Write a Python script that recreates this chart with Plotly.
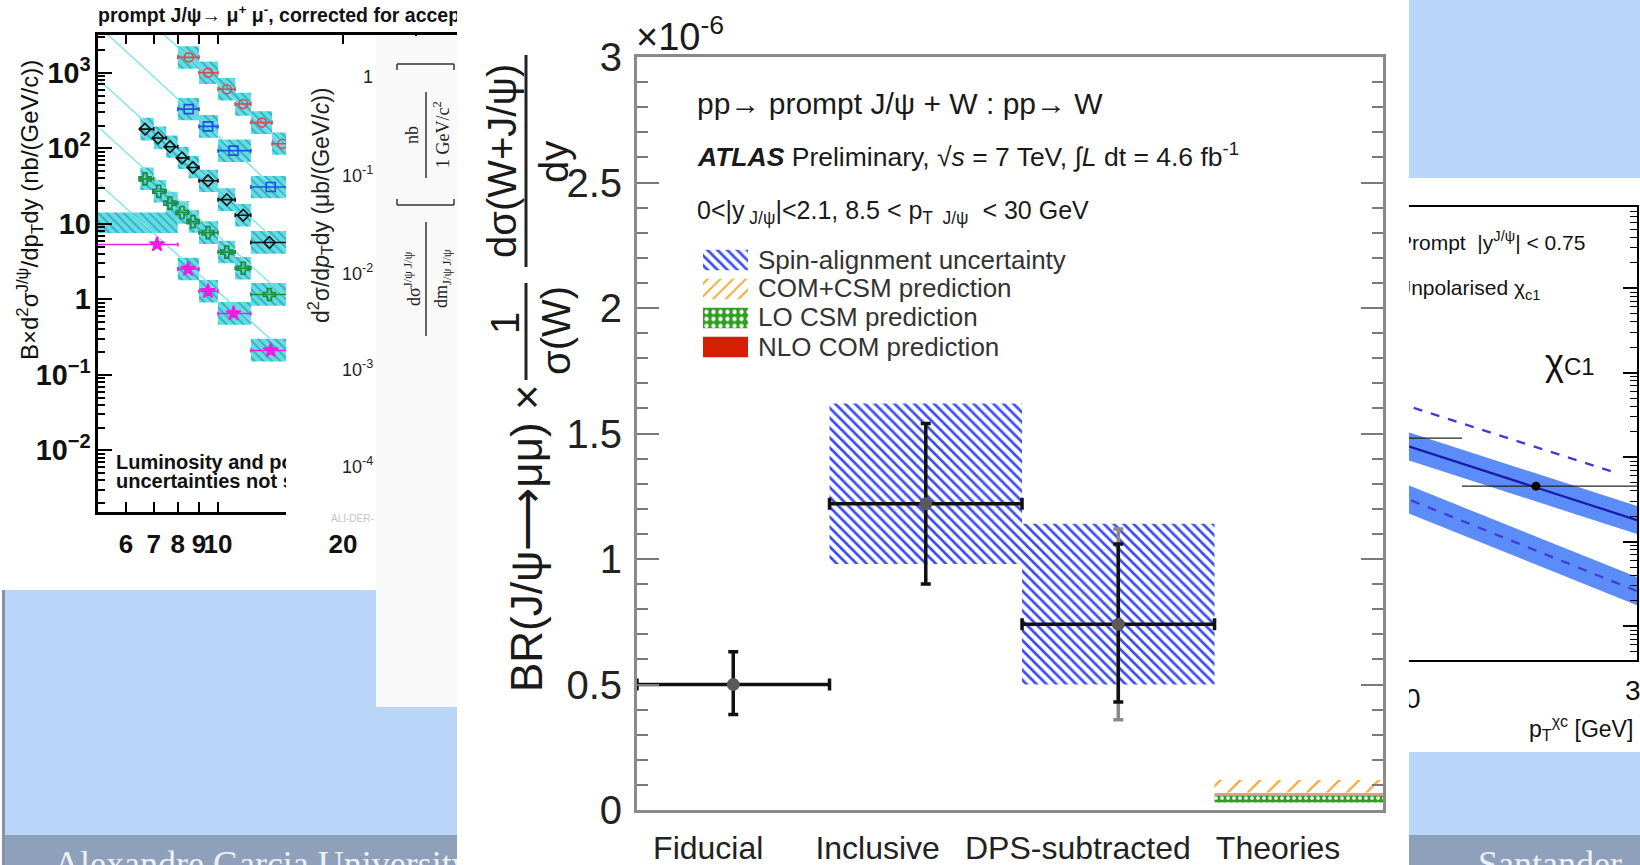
import plotly.graph_objects as go

W, H = 1640, 865


def fx(px):
    return px / W


def fy(py):
    return 1 - py / H


SANS = "Liberation Sans, Arial, Helvetica, sans-serif"
SERIF = "Liberation Serif, DejaVu Serif, serif"

# ---------------- ATLAS: prompt J/psi + W ratio (units of 1e-6) ----------------
categories = ["Fiducial", "Inclusive", "DPS-subtracted", "Theories"]
bin_centres = [0.5, 1.5, 2.5]
bin_half_width = [0.5, 0.5, 0.5]
ratio = [0.50, 1.22, 0.74]
ratio_err_up = [0.13, 0.32, 0.32]
ratio_err_down = [0.12, 0.32, 0.31]
dps_total_up = [0.38]
dps_total_down = [0.38]
spin_centres = [1.5, 2.5]
spin_low = [0.98, 0.50]
spin_high = [1.62, 1.14]
theory_centre = 3.5
theory_labels = ["COM+CSM prediction", "LO CSM prediction", "NLO COM prediction"]
theory_low = [0.070, 0.030, 0.058]
theory_high = [0.120, 0.058, 0.068]
y_ticks = [0, 0.5, 1, 1.5, 2, 2.5, 3]
y_tick_text = ["0", "0.5", "1", "1.5", "2", "2.5", "3"]
legend_labels = ["Spin-alignment uncertainty", "COM+CSM prediction",
                 "LO CSM prediction", "NLO COM prediction"]

# ---------------- CMS prompt J/psi cross sections (nb/(GeV/c)) ----------------
red_pt = [8.5, 9.46, 10.5, 11.5, 12.76, 14.3]
red_val = [1600, 1000, 604, 386, 219, 115]
red_bins = [(8, 9), (9, 10), (10, 11), (11, 12), (12, 13.5), (13.5, 15)]
red_box = [(1130, 2250), (710, 1410), (430, 850), (270, 545), (155, 310), (82, 162)]

blue_pt = [8.5, 9.46, 10.9, 13.4]
blue_val = [330, 195, 93, 30.7]
blue_bins = [(8, 9), (9, 10), (10, 12), (12, 15)]
blue_box = [(235, 465), (138, 275), (66, 131), (21.8, 43)]

black_pt = [6.67, 7.17, 7.66, 8.19, 8.7, 9.46, 10.5, 11.5, 13.3]
black_val = [179.5, 137, 105, 74.6, 55.8, 37.1, 20.9, 13.0, 5.65]
black_bins = [(6.5, 7), (7, 7.5), (7.5, 8), (8, 8.5), (8.5, 9), (9, 10), (10, 11), (11, 12), (12, 15)]
black_box = [(127, 253), (97, 194), (75, 148), (53, 105), (40, 79), (26.3, 52), (14.8, 29.5), (9.2, 18.3), (4.0, 8.0)]

green_pt = [6.67, 7.2, 7.66, 8.19, 8.7, 9.46, 10.5, 11.5, 13.3]
green_val = [39.4, 27, 18.8, 14.1, 10.7, 7.64, 4.22, 2.58, 1.16]
green_bins = black_bins
green_box = [(28, 55.6), (19.2, 38), (13.3, 26.5), (10, 19.9), (7.6, 15.1), (5.4, 10.8), (3.0, 5.95), (1.83, 3.64), (0.82, 1.64)]

mag_pt = [7.13, 8.47, 9.46, 10.9, 13.4]
mag_val = [5.33, 2.52, 1.28, 0.65, 0.21]
mag_bins = [(5, 8), (8, 9), (9, 10), (10, 12), (12, 15)]
mag_box = [(7.55, 14.1), (1.79, 3.55), (0.91, 1.8), (0.46, 0.92), (0.15, 0.30)]

fit_pt = [5.2, 20]
fit_red = [19200, 21.3]
fit_blue = [3970, 4.4]
fit_black = [776, 0.93]
fit_green = [182, 0.219]
fit_mag = [33, 0.040]

# ---------------- chi_c1 panel ----------------
chi_pt = [16, 29.85]
chi_nlo = [0.0318, 0.0018]
chi_nlo_lo = [0.0217, 0.00123]
chi_nlo_hi = [0.0466, 0.00264]
chi_low = [0.00923, 0.00026]
chi_low_lo = [0.0063, 0.000177]
chi_low_hi = [0.01353, 0.000381]
chi_up_pt = [16, 29.1]
chi_up = [0.094, 0.00634]
chi_data_pt = [19.5, 25.56]
chi_data = [0.0168, 0.00454]
chi_data_bins = [(17.5, 22.42), (22.42, 30)]

fig = go.Figure()

# ---- 1) page canvas: slide text that neighbouring panels partly hide ----
canvas_text = [
    ("prompt J/ψ→ μ<sup>+</sup> μ<sup>-</sup>, corrected for acceptance", 98, 17, 19.5, SANS, "#111", "bold", "middle right"),
    ("Luminosity and polarization", 116, 464, 20, SANS, "#111", "bold", "middle right"),
    ("uncertainties not shown", 116, 483, 20, SANS, "#111", "bold", "middle right"),
    ("Prompt  |y<sup>J/ψ</sup>| < 0.75", 1398, 245, 21, SANS, "#111", "normal", "middle right"),
    ("Unpolarised χ<sub>c1</sub>", 1396, 290, 21, SANS, "#111", "normal", "middle right"),
    ("Alexandre Garcia University", 54, 849, 36, SERIF, "#eef2f8", "normal", "bottom right"),
    ("Santander", 1478, 849, 36, SERIF, "#eef2f8", "normal", "bottom right"),
]
for txt, x, y, size, fam, col, wt, pos in canvas_text:
    fig.add_trace(go.Scatter(
        x=[x], y=[y], mode="text", text=[txt], textposition=pos,
        textfont=dict(size=size, family=fam, color=col, weight=wt),
        cliponaxis=False, xaxis="x", yaxis="y", hoverinfo="skip"))


# ---- 2) CMS panel ----
def box_path(bins, lohi):
    xs, ys = [], []
    for (a, b), (lo, hi) in zip(bins, lohi):
        xs += [a, b, b, a, a, None]
        ys += [lo, lo, hi, hi, lo, None]
    return xs, ys


cms_sets = [
    (red_pt, red_val, red_bins, red_box, fit_red, "#e0474c", "circle-open", 9),
    (blue_pt, blue_val, blue_bins, blue_box, fit_blue, "#2050e0", "square-open", 9),
    (black_pt, black_val, black_bins, black_box, fit_black, "#111111", "diamond-open", 9),
    (green_pt, green_val, green_bins, green_box, fit_green, "#1f8a3a", "cross-open", 10),
    (mag_pt, mag_val, mag_bins, mag_box, fit_mag, "#f01ee0", "star", 11),
]
for pt, val, bins, box, fit, col, sym, msize in cms_sets:
    bx, by = box_path(bins, box)
    fig.add_trace(go.Scatter(
        x=bx, y=by, mode="lines", fill="toself", fillcolor="#66dbe4",
        fillpattern=dict(shape="\\", fgcolor="#2ab0be", bgcolor="#66dbe4",
                         size=6, solidity=0.3, fillmode="replace"),
        line=dict(width=0), xaxis="x2", yaxis="y2", hoverinfo="skip"))
for pt, val, bins, box, fit, col, sym, msize in cms_sets:
    fig.add_trace(go.Scatter(
        x=fit_pt, y=fit, mode="lines", line=dict(color="#7de6ec", width=1.4),
        xaxis="x2", yaxis="y2", hoverinfo="skip"))
for pt, val, bins, box, fit, col, sym, msize in cms_sets:
    fig.add_trace(go.Scatter(
        x=pt, y=val, mode="markers",
        marker=dict(symbol=sym, size=msize, color=col, line=dict(color=col, width=1.6)),
        error_x=dict(type="data",
                     array=[b[1] - p for b, p in zip(bins, pt)],
                     arrayminus=[p - b[0] for b, p in zip(bins, pt)],
                     color=col, thickness=1.6, width=2),
        xaxis="x2", yaxis="y2", hoverinfo="skip"))

# ---- 3) chi_c1 panel ----
for lo, hi in [(chi_nlo_lo, chi_nlo_hi), (chi_low_lo, chi_low_hi)]:
    fig.add_trace(go.Scatter(x=chi_pt, y=lo, mode="lines", line=dict(width=0),
                             xaxis="x3", yaxis="y3", hoverinfo="skip"))
    fig.add_trace(go.Scatter(x=chi_pt, y=hi, mode="lines", line=dict(width=0),
                             fill="tonexty", fillcolor="#5b8cf7",
                             xaxis="x3", yaxis="y3", hoverinfo="skip"))
fig.add_trace(go.Scatter(x=chi_pt, y=chi_nlo, mode="lines",
                         line=dict(color="#1a1aa8", width=2.2), xaxis="x3", yaxis="y3"))
fig.add_trace(go.Scatter(x=chi_pt, y=chi_low, mode="lines",
                         line=dict(color="#3b3bd6", width=2.2, dash="dash"), xaxis="x3", yaxis="y3"))
fig.add_trace(go.Scatter(x=chi_up_pt, y=chi_up, mode="lines",
                         line=dict(color="#3b3bd6", width=2.2, dash="dash"), xaxis="x3", yaxis="y3"))
fig.add_trace(go.Scatter(
    x=chi_data_pt, y=chi_data, mode="markers",
    marker=dict(size=9, color="black"),
    error_x=dict(type="data",
                 array=[b[1] - p for b, p in zip(chi_data_bins, chi_data_pt)],
                 arrayminus=[p - b[0] for b, p in zip(chi_data_bins, chi_data_pt)],
                 color="#222", thickness=1.4, width=0),
    xaxis="x3", yaxis="y3"))

# ---- 4) panel sheets laid over the neighbouring pictures ----
sheets = [
    ((457, 1409), (0, 865), "#ffffff"),
    ((286, 376), (50, 522), "#ffffff"),
    ((376, 457), (36, 707), "#f9f9f9"),
]
for (x0, x1), (y0, y1), col in sheets:
    fig.add_trace(go.Scatter(
        x=[x0, x1, x1, x0, x0], y=[y0, y0, y1, y1, y0], mode="lines",
        fill="toself", fillcolor=col, line=dict(width=0),
        xaxis="x4", yaxis="y4", hoverinfo="skip"))

# ---- 5) ATLAS measurement ----
BLUE = "#3b4cf0"
ORANGE = "#f5a020"
GREEN = "#2f9e22"


def hatch(col, shape, size, solidity, bg="white"):
    return dict(color=col, line=dict(width=0),
                pattern=dict(shape=shape, size=size, solidity=solidity,
                             fgcolor=col, bgcolor=bg, fillmode="replace"))


fig.add_trace(go.Bar(
    x=spin_centres, y=[h - l for l, h in zip(spin_low, spin_high)], base=spin_low, width=1,
    marker=hatch(BLUE, "\\", 7, 0.38),
    xaxis="x5", yaxis="y5", hoverinfo="skip"))
theory_marker = [
    hatch(ORANGE, "/", 14, 0.14),
    dict(color=GREEN, line=dict(width=0),
         pattern=dict(shape=".", size=6, solidity=0.3, fgcolor="white", bgcolor=GREEN, fillmode="replace")),
    dict(color="rgba(214,70,45,0.55)", line=dict(width=0)),
]
for lo, hi, mk in zip(theory_low, theory_high, theory_marker):
    fig.add_trace(go.Bar(x=[theory_centre], y=[hi - lo], base=[lo], width=1, marker=mk,
                         xaxis="x5", yaxis="y5", hoverinfo="skip"))
fig.add_trace(go.Scatter(
    x=[bin_centres[2]], y=[ratio[2]], mode="markers", marker=dict(size=1, color="rgba(0,0,0,0)"),
    error_y=dict(type="data", array=dps_total_up, arrayminus=dps_total_down,
                 color="#8a8a8a", thickness=3.5, width=5),
    xaxis="x5", yaxis="y5", hoverinfo="skip"))
fig.add_trace(go.Scatter(
    x=bin_centres, y=ratio, mode="markers", marker=dict(size=13, color="#5a5a5a"),
    error_x=dict(type="data", array=bin_half_width, color="#111", thickness=3.5, width=6),
    error_y=dict(type="data", array=ratio_err_up, arrayminus=ratio_err_down,
                 color="#111", thickness=3.5, width=5),
    xaxis="x5", yaxis="y5", hoverinfo="skip"))

# ---- 6) legend keys ----
key_marker = [
    hatch(BLUE, "\\", 7, 0.38),
    hatch(ORANGE, "/", 9, 0.2),
    dict(color=GREEN, line=dict(width=0),
         pattern=dict(shape=".", size=7, solidity=0.3, fgcolor="white", bgcolor=GREEN, fillmode="replace")),
    dict(color="#d41f00", line=dict(width=0)),
]
for row, mk in enumerate(key_marker):
    fig.add_trace(go.Bar(y=[row], x=[1], base=[0], width=0.7, orientation="h", marker=mk,
                         xaxis="x6", yaxis="y6", hoverinfo="skip"))

# ---------------- axes ----------------
hidden = dict(visible=False, fixedrange=True)
label_pos = [0.37, 1.25, 2.29, 3.33]

fig.update_layout(
    width=W, height=H, margin=dict(l=0, r=0, t=0, b=0, pad=0),
    paper_bgcolor="white", plot_bgcolor="rgba(0,0,0,0)",
    showlegend=False, barmode="overlay", hovermode=False,
    xaxis=dict(domain=[0, 1], range=[0, W], anchor="y", **hidden),
    yaxis=dict(domain=[0, 1], range=[H, 0], anchor="x", **hidden),
    xaxis4=dict(domain=[0, 1], range=[0, W], anchor="y4", **hidden),
    yaxis4=dict(domain=[0, 1], range=[H, 0], anchor="x4", **hidden),
    xaxis2=dict(
        domain=[fx(98), fx(457)], anchor="y2", type="log", range=[0.7108, 1.5759],
        tickvals=[6, 7, 8, 9, 10, 20, 30], ticktext=["6", "7", "8", "9", "10", "20", "30"],
        tickangle=0,
        ticks="inside", ticklen=10, tickwidth=2, tickcolor="black",
        showline=True, linecolor="black", linewidth=2.5, mirror="ticks",
        showgrid=False, zeroline=False, automargin=False, ticklabelstandoff=8,
        tickfont=dict(family=SANS, size=26, color="#111", weight="bold")),
    yaxis2=dict(
        domain=[fy(511.5), fy(34.5)], anchor="x2", type="log", range=[-2.81, 3.507],
        dtick=1, exponentformat="power",
        ticks="inside", ticklen=14, tickwidth=2, tickcolor="black",
        minor=dict(ticks="inside", ticklen=7, tickwidth=1.5, tickcolor="black", dtick="D1"),
        showline=True, linecolor="black", linewidth=2.5, mirror="ticks",
        showgrid=False, zeroline=False, automargin=False,
        tickfont=dict(family=SANS, size=23, color="#111", weight="bold")),
    xaxis3=dict(
        domain=[fx(1300), fx(1637)], anchor="y3", range=[15.54, 29.85],
        tickvals=[20], ticktext=["20"], ticks="",
        showline=True, linecolor="black", linewidth=2, mirror=True,
        showgrid=False, zeroline=False, automargin=False, ticklabelstandoff=12,
        tickfont=dict(family=SANS, size=28, color="#111")),
    yaxis3=dict(
        domain=[fy(660), fy(207)], anchor="x3", type="log", range=[-4.40, 0.96],
        dtick=1, showticklabels=False,
        ticks="inside", ticklen=14, tickwidth=1.5, tickcolor="black",
        minor=dict(ticks="inside", ticklen=7, tickwidth=1, tickcolor="black", dtick="D1"),
        showline=True, linecolor="black", linewidth=2, mirror="ticks",
        showgrid=False, zeroline=False, automargin=False),
    xaxis5=dict(
        domain=[fx(637), fx(1383)], anchor="y5", range=[0, 3.875],
        tickvals=label_pos, ticktext=categories, ticks="",
        showline=True, linecolor="#8a8a8a", linewidth=3, mirror=True,
        showgrid=False, zeroline=False, automargin=False, ticklabelstandoff=8,
        tickfont=dict(family=SANS, size=32, color="#222")),
    yaxis5=dict(
        domain=[fy(810), fy(57)], anchor="x5", range=[0, 3],
        tickvals=y_ticks, ticktext=y_tick_text,
        ticks="inside", ticklen=22, tickwidth=2, tickcolor="#7a7a7a",
        minor=dict(dtick=0.1, ticks="inside", ticklen=11, tickwidth=2, tickcolor="#7a7a7a"),
        showline=True, linecolor="#8a8a8a", linewidth=3, mirror="ticks",
        showgrid=False, zeroline=False, automargin=False, ticklabelstandoff=4,
        tickfont=dict(family=SANS, size=40, color="#222")),
    xaxis6=dict(domain=[fx(703), fx(748)], range=[0, 1], anchor="y6", **hidden),
    yaxis6=dict(domain=[fy(361.5), fy(245.5)], range=[3.5, -0.5], anchor="x6", **hidden),
)

# ---------------- slide background ----------------
LIGHT = "#b9d5f8"
FOOT = "#8fa0bb"
shapes = []
for (x0, y0, x1, y1, col) in [
    (5, 590, 376, 835, LIGHT), (376, 707, 457, 835, LIGHT),
    (1409, 0, 1640, 178, LIGHT), (1409, 752, 1640, 835, LIGHT),
    (5, 835, 1640, 865, FOOT), (2, 590, 5, 865, "#8792a8"),
]:
    shapes.append(dict(type="rect", xref="paper", yref="paper", layer="below",
                       x0=fx(x0), x1=fx(x1), y0=fy(y1), y1=fy(y0),
                       fillcolor=col, line=dict(width=0)))


def vline(x, y0, y1, col="#222", w=3):
    return dict(type="line", xref="paper", yref="paper", layer="above",
                x0=fx(x), x1=fx(x), y0=fy(y0), y1=fy(y1), line=dict(color=col, width=w))


def hline(x0, x1, y, col="#333", w=1.5):
    return dict(type="line", xref="paper", yref="paper", layer="above",
                x0=fx(x0), x1=fx(x1), y0=fy(y), y1=fy(y), line=dict(color=col, width=w))


# fraction bars of the rotated ATLAS axis title
shapes += [vline(526, 55, 267), vline(526, 283, 380)]
# ALICE axis label fractions and brackets
shapes += [vline(426, 222, 336, "#333", 1.5), vline(426, 92, 178, "#333", 1.5)]
shapes += [hline(397, 454, 64), hline(397, 454, 205),
           vline(397, 64, 70, "#333", 1.5), vline(454, 64, 70, "#333", 1.5),
           vline(397, 199, 205, "#333", 1.5), vline(454, 199, 205, "#333", 1.5)]
fig.update_layout(shapes=shapes)

# ---------------- annotations ----------------
ann = []


def add(text, x, y, size, xanchor="center", yanchor="middle", angle=0,
        family=SANS, color="#1a1a1a"):
    ann.append(dict(text=text, x=fx(x), y=fy(y), xref="paper", yref="paper",
                    xanchor=xanchor, yanchor=yanchor, textangle=angle, showarrow=False,
                    font=dict(size=size, family=family, color=color)))


# ATLAS axis title (rotated)
add("dσ(W+J/ψ)", 502, 161, 40, angle=-90)
add("dy", 554, 162, 40, angle=-90)
add("1", 505, 323, 40, angle=-90)
add("σ(W)", 556, 331, 40, angle=-90)
add("BR(J/ψ⟶μμ) ×", 526, 538, 44, angle=-90)
add("×10<sup>-6</sup>", 634, 60, 38, xanchor="left", yanchor="bottom")

# ATLAS in-frame text
add("pp→ prompt J/ψ + W : pp→ W", 695, 103, 30, xanchor="left")
add("<b><i>ATLAS</i></b> Preliminary, √<i>s</i> = 7 TeV, ∫<i>L</i> dt = 4.6 fb<sup>-1</sup>",
    695, 155, 26.5, xanchor="left")
add("0<|y<sub> J/ψ</sub>|<2.1, 8.5 < p<sub>T  J/ψ</sub>  < 30 GeV", 695, 212, 25, xanchor="left")
for row, lab in enumerate(legend_labels):
    add(lab, 756, [260, 288, 317, 347][row], 26, xanchor="left", color="#333")

# CMS / ALICE axis texts
add("B×d<sup>2</sup>σ<sup>J/ψ</sup>/dp<sub>T</sub>dy (nb/(GeV/c))", 30, 210, 24, angle=-90, color="#111")
add("d<sup>2</sup>σ/d<i>p</i><sub>T</sub>dy (μb/(GeV/<i>c</i>))", 320, 206, 23, angle=-90, color="#222")
for txt, y in [("1", 77), ("10<sup>-1</sup>", 174), ("10<sup>-2</sup>", 272),
               ("10<sup>-3</sup>", 368), ("10<sup>-4</sup>", 465)]:
    add(txt, 375, y, 18, xanchor="right", color="#222")
add("ALI-DER-", 376, 518, 10, xanchor="right", color="#c4c4c4")
add("dσ<sup>J/ψ J/ψ</sup>", 412, 279, 18, angle=-90, family=SERIF, color="#222")
add("dm<sub>J/ψ J/ψ</sub>", 442, 279, 18, angle=-90, family=SERIF, color="#222")
add("nb", 412, 135, 18, angle=-90, family=SERIF, color="#222")
add("1 GeV/c<sup>2</sup>", 442, 135, 18, angle=-90, family=SERIF, color="#222")

# chi_c1 panel
add("χ<span style='font-size:24px'>C1</span>", 1543, 362, 36, xanchor="left", color="#111")
add("30", 1641, 690, 28, color="#111")
add("p<sub>T</sub><sup>χc</sup> [GeV]", 1527, 728, 23, xanchor="left", color="#111")

fig.update_layout(annotations=ann)
fig.write_html("out.html")
